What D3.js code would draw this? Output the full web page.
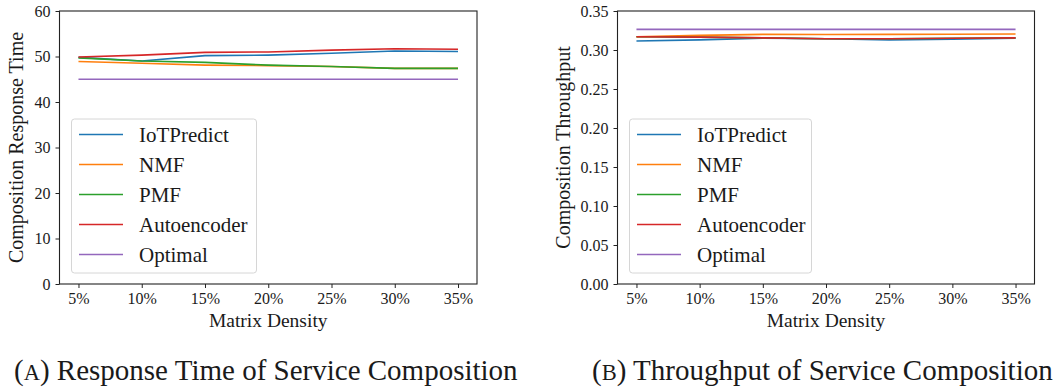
<!DOCTYPE html>
<html>
<head>
<meta charset="utf-8">
<script src="https://cdn.jsdelivr.net/npm/d3@7"></script>
<style>
  html, body { margin: 0; padding: 0; background: #fff; }
  svg { display: block; }
  text { font-family: "Liberation Serif", "Times New Roman", serif; fill: #1a1a1a; }
</style>
</head>
<body>
<svg id="fig" width="1060" height="388"></svg>
<script>
// Matrix densities on the x axis
const densities = ["5%", "10%", "15%", "20%", "25%", "30%", "35%"];
const methods = ["IoTPredict", "NMF", "PMF", "Autoencoder", "Optimal"];
const colors = ["#1f77b4", "#ff7f0e", "#2ca02c", "#d62728", "#9467bd"];

// Composition response time
const rtIoTPredict  = [49.8, 49.0, 50.2, 50.3, 50.7, 51.2, 51.1];
const rtNMF         = [48.9, 48.5, 48.1, 48.0, 47.8, 47.4, 47.4];
const rtPMF         = [49.7, 49.0, 48.7, 48.1, 47.8, 47.4, 47.4];
const rtAutoencoder = [49.9, 50.3, 50.9, 51.0, 51.4, 51.7, 51.6];
const rtOptimal     = [45.0, 45.0, 45.0, 45.0, 45.0, 45.0, 45.0];
const rtTicks = [0, 10, 20, 30, 40, 50, 60];

// Composition throughput
const tpIoTPredict  = [0.3115, 0.3130, 0.3150, 0.3145, 0.3130, 0.3140, 0.3150];
const tpNMF         = [0.3170, 0.3188, 0.3200, 0.3198, 0.3200, 0.3202, 0.3205];
const tpPMF         = [0.3170, 0.3165, 0.3155, 0.3145, 0.3145, 0.3150, 0.3155];
const tpAutoencoder = [0.3170, 0.3165, 0.3155, 0.3145, 0.3145, 0.3150, 0.3155];
const tpOptimal     = [0.3265, 0.3265, 0.3265, 0.3265, 0.3265, 0.3265, 0.3265];
const tpTicks = [0, 0.05, 0.10, 0.15, 0.20, 0.25, 0.30, 0.35];

const svg = d3.select("#fig");

function panel(cfg) {
  const { left, right, top, bottom } = cfg;
  const g = svg.append("g");

  const x = d3.scalePoint().domain(densities).range([left, right]).padding(0.3);
  const y = d3.scaleLinear().domain(cfg.domain).range([bottom, top]);

  // x axis
  const xa = g.append("g")
    .attr("transform", `translate(0,${bottom})`)
    .call(d3.axisBottom(x).tickSize(4).tickPadding(5));
  xa.select(".domain").remove();
  xa.selectAll("line").attr("stroke", "#222").attr("stroke-width", 1);
  xa.selectAll("text").attr("font-size", 16).attr("fill", "#1a1a1a")
    .attr("font-family", "Liberation Serif, serif");

  // y axis
  const ya = g.append("g")
    .attr("transform", `translate(${left},0)`)
    .call(d3.axisLeft(y).tickValues(cfg.ticks).tickFormat(cfg.fmt).tickSize(4).tickPadding(5));
  ya.select(".domain").remove();
  ya.selectAll("line").attr("stroke", "#222").attr("stroke-width", 1);
  ya.selectAll("text").attr("font-size", 16).attr("fill", "#1a1a1a")
    .attr("font-family", "Liberation Serif, serif");

  // series
  const line = d3.line().x((d, i) => x(densities[i])).y(d => y(d));
  cfg.series.forEach((vals, k) => {
    g.append("path")
      .datum(vals)
      .attr("d", line)
      .attr("fill", "none")
      .attr("stroke", colors[k])
      .attr("stroke-width", 1.6)
      .attr("stroke-linejoin", "round");
  });

  // frame
  g.append("rect")
    .attr("x", left).attr("y", top)
    .attr("width", right - left).attr("height", bottom - top)
    .attr("fill", "none").attr("stroke", "#222").attr("stroke-width", 1.1);

  // legend
  const lx = left + 12, ly = 119, lw = cfg.legendW, lh = 154;
  g.append("rect")
    .attr("x", lx).attr("y", ly).attr("width", lw).attr("height", lh)
    .attr("rx", 3).attr("ry", 3)
    .attr("fill", "#fff").attr("fill-opacity", 0.8)
    .attr("stroke", "#d6d6d6").attr("stroke-width", 1);
  methods.forEach((m, k) => {
    const cy = ly + 15.5 + k * 30;
    g.append("line")
      .attr("x1", lx + 7.5).attr("x2", lx + 51.5)
      .attr("y1", cy).attr("y2", cy)
      .attr("stroke", colors[k]).attr("stroke-width", 1.6);
    g.append("text")
      .attr("x", lx + 67.5).attr("y", cy + 7)
      .attr("font-size", 21)
      .text(m);
  });

  // axis titles
  g.append("text")
    .attr("x", (left + right) / 2).attr("y", 327)
    .attr("text-anchor", "middle").attr("font-size", 19.5)
    .text("Matrix Density");
  g.append("text")
    .attr("transform", `translate(${cfg.ylabelX},${(top + bottom) / 2}) rotate(-90)`)
    .attr("text-anchor", "middle").attr("font-size", 20)
    .text(cfg.ylabel);

  // caption
  const cap = g.append("text")
    .attr("x", cfg.capX).attr("y", 380)
    .attr("font-size", 29);
  cap.append("tspan").text("(");
  cap.append("tspan").attr("font-size", 22.5).text(cfg.capLetter);
  cap.append("tspan").text(") " + cfg.caption);
}

panel({
  left: 59.5, right: 477, top: 11, bottom: 284,
  domain: [0, 60], ticks: rtTicks, fmt: d3.format("d"),
  series: [rtIoTPredict, rtNMF, rtPMF, rtAutoencoder, rtOptimal],
  legendW: 185,
  ylabel: "Composition Response Time", ylabelX: 23,
  capX: 14, capLetter: "A", caption: "Response Time of Service Composition"
});

panel({
  left: 617.5, right: 1034.5, top: 11, bottom: 284,
  domain: [0, 0.35], ticks: tpTicks, fmt: d3.format(".2f"),
  series: [tpIoTPredict, tpNMF, tpPMF, tpAutoencoder, tpOptimal],
  legendW: 182,
  ylabel: "Composition Throughput", ylabelX: 570,
  capX: 592, capLetter: "B", caption: "Throughput of Service Composition"
});
</script>
</body>
</html>
